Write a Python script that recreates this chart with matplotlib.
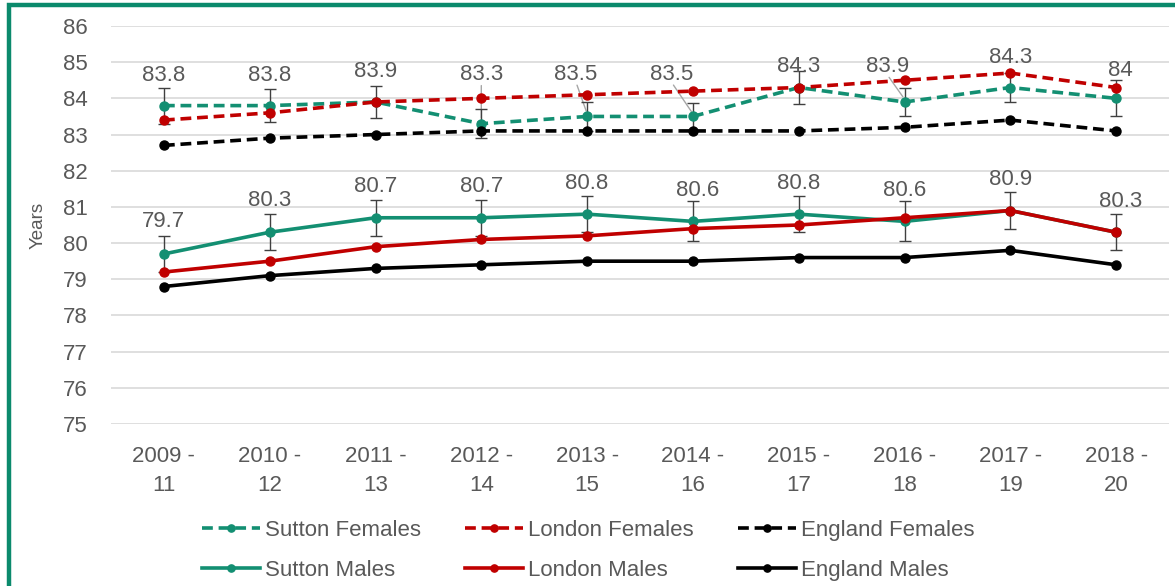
import matplotlib.pyplot as plt
from matplotlib.patches import Rectangle

periods = ["2009 -\n11", "2010 -\n12", "2011 -\n13", "2012 -\n14", "2013 -\n15",
           "2014 -\n16", "2015 -\n17", "2016 -\n18", "2017 -\n19", "2018 -\n20"]

sutton_f = [83.8, 83.8, 83.9, 83.3, 83.5, 83.5, 84.3, 83.9, 84.3, 84.0]
sutton_f_err = [0.5, 0.45, 0.45, 0.4, 0.4, 0.37, 0.45, 0.4, 0.4, 0.5]
london_f = [83.4, 83.6, 83.9, 84.0, 84.1, 84.2, 84.3, 84.5, 84.7, 84.3]
england_f = [82.7, 82.9, 83.0, 83.1, 83.1, 83.1, 83.1, 83.2, 83.4, 83.1]

sutton_m = [79.7, 80.3, 80.7, 80.7, 80.8, 80.6, 80.8, 80.6, 80.9, 80.3]
sutton_m_err = [0.5, 0.5, 0.5, 0.5, 0.5, 0.55, 0.5, 0.55, 0.5, 0.5]
london_m = [79.2, 79.5, 79.9, 80.1, 80.2, 80.4, 80.5, 80.7, 80.9, 80.3]
england_m = [78.8, 79.1, 79.3, 79.4, 79.5, 79.5, 79.6, 79.6, 79.8, 79.4]

TEAL = "#138f72"
RED = "#c00000"
BLACK = "#000000"
GREY = "#595959"
FS = 16

plt.rcParams["font.family"] = ["Liberation Sans", "DejaVu Sans"]

fig = plt.figure(figsize=(11.75, 5.86), dpi=100)
ax = fig.add_axes([111 / 1175, 1 - 424 / 586, (1169 - 111) / 1175, (424 - 26) / 586])

x = list(range(len(periods)))
lw = 2.6
ms = 6.5
dash = (0, (3, 1.6))

# error bars first so the lines sit on top
ax.errorbar(x, sutton_f, yerr=sutton_f_err, fmt="none", ecolor="#404040",
            elinewidth=1, capsize=4, capthick=1, zorder=2)
ax.errorbar(x, sutton_m, yerr=sutton_m_err, fmt="none", ecolor="#404040",
            elinewidth=1, capsize=4, capthick=1, zorder=2)

h_sf, = ax.plot(x, sutton_f, color=TEAL, ls=dash, lw=lw, marker="o", ms=ms, label="Sutton Females", zorder=3)
h_lf, = ax.plot(x, london_f, color=RED, ls=dash, lw=lw, marker="o", ms=ms, label="London Females", zorder=4)
h_ef, = ax.plot(x, england_f, color=BLACK, ls=dash, lw=lw, marker="o", ms=ms, label="England Females", zorder=3)
h_sm, = ax.plot(x, sutton_m, color=TEAL, lw=lw, marker="o", ms=ms, label="Sutton Males", zorder=3)
h_lm, = ax.plot(x, london_m, color=RED, lw=lw, marker="o", ms=ms, label="London Males", zorder=4)
h_em, = ax.plot(x, england_m, color=BLACK, lw=lw, marker="o", ms=ms, label="England Males", zorder=3)

# data label offsets in pixels (dx, dy), some moved with leader lines
px = 72 / 100
f_off = [(0, 30), (0, 30), (0, 30), (0, 49), (-11, 42), (-21, 42), (0, 21), (-17, 35), (0, 30), (4, 28)]
f_leader = [False, False, False, True, True, True, False, True, False, False]
m_off = [(0, 32), (0, 32), (0, 31), (0, 31), (0, 31), (5, 31), (0, 31), (0, 31), (0, 31), (5, 31)]

for i, v in enumerate(sutton_f):
    dx, dy = f_off[i]
    ax.annotate(f"{v:g}", (i, v), xytext=(dx * px, dy * px), textcoords="offset points",
                ha="center", va="center", fontsize=FS, color=GREY, zorder=6)
    if f_leader[i]:
        ax.annotate("", (i, v + sutton_f_err[i] * 0.2), xytext=(dx * px, (dy - 11) * px),
                    textcoords="offset points",
                    arrowprops=dict(arrowstyle="-", color="#a6a6a6", lw=1), zorder=1)

for i, v in enumerate(sutton_m):
    dx, dy = m_off[i]
    ax.annotate(f"{v:g}", (i, v), xytext=(dx * px, dy * px), textcoords="offset points",
                ha="center", va="center", fontsize=FS, color=GREY, zorder=6)

ax.set_ylim(75, 86)
ax.set_xlim(-0.5, len(periods) - 0.5)
ax.set_yticks(range(75, 87))
ax.set_xticks(x)
ax.set_xticklabels(periods, fontsize=FS, color=GREY, linespacing=1.5)
ax.tick_params(axis="y", labelsize=FS, labelcolor=GREY, length=0, pad=17)
ax.tick_params(axis="x", length=0, pad=16)
ax.yaxis.grid(True, color="#d9d9d9", lw=1.2)
ax.set_axisbelow(True)
for s in ax.spines.values():
    s.set_visible(False)
ax.set_ylabel("Years", fontsize=13.5, color=GREY, va="center")
ax.yaxis.set_label_coords((38 - 111) / 1058, 0.5)

# legend is filled column by column, so order handles to read row-wise
handles = [h_sf, h_sm, h_lf, h_lm, h_ef, h_em]
leg = fig.legend(handles=handles, loc="upper left", bbox_to_anchor=(182 / 1175, 1 - 500 / 586), ncol=3,
                 frameon=False, fontsize=FS, handlelength=2.6, handletextpad=0.23,
                 columnspacing=2.0, labelspacing=0.85, markerscale=0.8)
for t in leg.get_texts():
    t.set_color(GREY)

# teal frame round the figure
fig.patches.append(Rectangle((9 / 1175, -0.05), 1.2, 1 - 5 / 586 + 0.05, transform=fig.transFigure,
                             fill=False, edgecolor="#0b8a6c", lw=3.2))

fig.savefig("out.png", dpi=100)
